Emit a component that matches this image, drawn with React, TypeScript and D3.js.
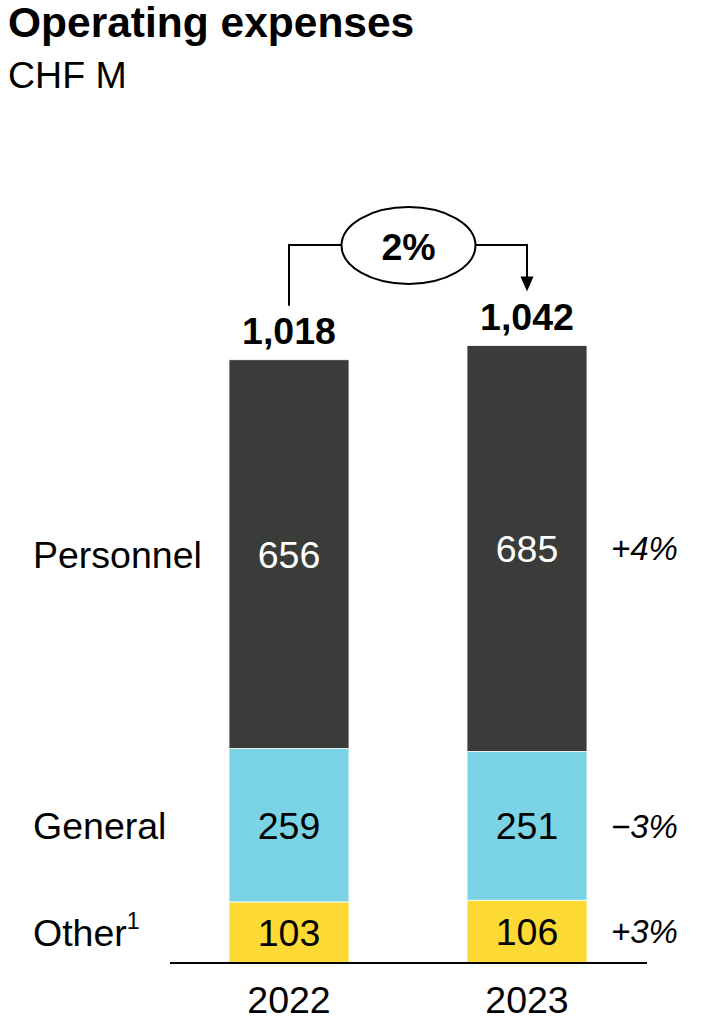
import React from "react";
import * as d3 from "d3";

const years = ["2022", "2023"];
const categories = ["Other", "General", "Personnel"];
const other = [103, 106];
const general = [259, 251];
const personnel = [656, 685];
const totals = [1018, 1042];
const changes = ["+3%", "\u22123%", "+4%"];
const totalChange = "2%";
const title = "Operating expenses";
const unit = "CHF M";

const W = 707;
const H = 1021;
const FONT = "'Liberation Sans', Arial, Helvetica, sans-serif";
const colors: Record<string, string> = {
  Personnel: "#3a3c39",
  General: "#7bd3e6",
  Other: "#fdda33",
};
const textColors: Record<string, string> = {
  Personnel: "#ffffff",
  General: "#000000",
  Other: "#000000",
};

export default function App() {
  const rows = years.map((yr, i) => ({
    year: yr,
    Other: other[i],
    General: general[i],
    Personnel: personnel[i],
  }));
  const series = d3.stack<any>().keys(categories)(rows);

  const x = d3
    .scaleBand<string>()
    .domain(years)
    .range([170, 646])
    .paddingInner(1 - 120 / 238)
    .paddingOuter((1 - 120 / 238) / 2);
  const y = d3.scaleLinear().domain([0, 1042]).range([963, 345.5]);
  const bw = x.bandwidth();
  const cx = (yr: string) => (x(yr) as number) + bw / 2;

  const fs = 37.5;
  const x0 = cx(years[0]);
  const x1 = cx(years[1]);
  const ell = { cx: 408.5, cy: 245.5, rx: 67, ry: 38.5 };
  const lineY = 245;
  const leftStart = y(totals[0]) - 54;
  const arrowTip = y(totals[1]) - 54;

  return (
    <svg
      width={W}
      height={H}
      style={{ position: "absolute", left: 0, top: 0, background: "#fff" }}
      fontFamily={FONT}
    >
      <text x={8} y={37} fontSize={42.5} fontWeight="bold" fill="#000">
        {title}
      </text>
      <text x={8} y={88} fontSize={37.5} fill="#000">
        {unit}
      </text>

      {series.map((s) => (
        <g key={s.key}>
          {s.map((d, i) => (
            <g key={years[i]}>
              <rect
                x={x(years[i])}
                y={y(d[1])}
                width={bw}
                height={y(d[0]) - y(d[1])}
                fill={colors[s.key]}
                stroke="#ffffff"
                strokeWidth={0.8}
              />
              <text
                x={cx(years[i])}
                y={(y(d[0]) + y(d[1])) / 2}
                dy="0.36em"
                textAnchor="middle"
                fontSize={fs}
                fill={textColors[s.key]}
              >
                {d[1] - d[0]}
              </text>
            </g>
          ))}
          <text
            x={33}
            y={(y(s[0][0]) + y(s[0][1])) / 2}
            dy="0.36em"
            fontSize={fs}
            fill="#000"
          >
            {s.key}
            {s.key === "Other" ? (
              <tspan fontSize={23} dy="-0.75em">
                1
              </tspan>
            ) : null}
          </text>
          <text
            x={611}
            y={(y(s[1][0]) + y(s[1][1])) / 2}
            dy="0.36em"
            fontSize={33}
            fontStyle="italic"
            fill="#000"
          >
            {changes[categories.indexOf(s.key)]}
          </text>
        </g>
      ))}

      {years.map((yr, i) => (
        <text
          key={"tot" + yr}
          x={cx(yr)}
          y={y(totals[i]) - 16}
          textAnchor="middle"
          fontSize={fs}
          fontWeight="bold"
          fill="#000"
        >
          {d3.format(",")(totals[i])}
        </text>
      ))}

      <line x1={170} x2={647} y1={y(0)} y2={y(0)} stroke="#000" strokeWidth={2} />

      {years.map((yr) => (
        <text
          key={"yr" + yr}
          x={cx(yr)}
          y={1013}
          textAnchor="middle"
          fontSize={fs}
          fill="#000"
        >
          {yr}
        </text>
      ))}

      <path
        d={`M${x0},${leftStart}V${lineY}H${ell.cx - ell.rx}`}
        fill="none"
        stroke="#000"
        strokeWidth={2}
      />
      <path
        d={`M${ell.cx + ell.rx},${lineY}H${x1}V${arrowTip - 14}`}
        fill="none"
        stroke="#000"
        strokeWidth={2}
      />
      <path
        d={`M${x1 - 6.5},${arrowTip - 15}L${x1 + 6.5},${arrowTip - 15}L${x1},${arrowTip}Z`}
        fill="#000"
      />
      <ellipse
        cx={ell.cx}
        cy={ell.cy}
        rx={ell.rx}
        ry={ell.ry}
        fill="#fff"
        stroke="#000"
        strokeWidth={2}
      />
      <text
        x={ell.cx}
        y={260}
        textAnchor="middle"
        fontSize={fs}
        fontWeight="bold"
        fill="#000"
      >
        {totalChange}
      </text>
    </svg>
  );
}
